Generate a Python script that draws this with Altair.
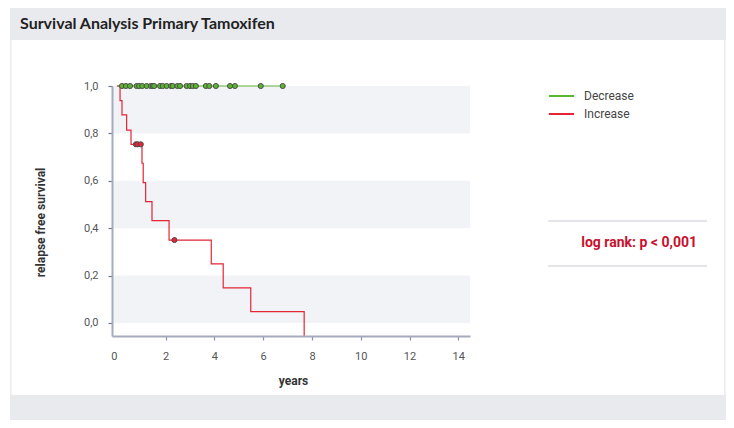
import altair as alt
import pandas as pd

# ---------------- data ----------------
groups = ["Decrease", "Increase"]
colors = ["#5cb531", "#e42535"]

# Decrease: no events, all censored at S = 1.0
dec_line_t = [0.0, 6.80]
dec_line_s = [1.0, 1.0]
dec_cens_t = [0.21, 0.37, 0.54, 0.81, 0.91, 1.04, 1.22, 1.39, 1.47, 1.53,
              1.77, 1.88, 2.04, 2.22, 2.29, 2.48, 2.59, 2.86, 3.00, 3.11,
              3.24, 3.65, 3.79, 4.06, 4.64, 4.84, 5.90, 6.80]

# Increase: Kaplan-Meier steps
inc_step_t = [0.0, 0.13, 0.21, 0.40, 0.58, 1.03, 1.08, 1.18, 1.44, 2.14,
              3.87, 4.36, 5.49, 7.68]
inc_step_s = [1.0, 0.938, 0.878, 0.814, 0.754, 0.674, 0.592, 0.512, 0.432,
              0.350, 0.249, 0.148, 0.048, 0.0]
inc_cens_t = [0.78, 0.85, 0.98, 2.36]
inc_cens_s = [0.754, 0.754, 0.754, 0.350]

x_ticks = [0, 2, 4, 6, 8, 10, 12, 14]
y_ticks = [0.0, 0.2, 0.4, 0.6, 0.8, 1.0]
band_lo = [0.8, 0.4, 0.0]
band_hi = [1.0, 0.6, 0.2]

title_text = "Survival Analysis Primary Tamoxifen"
x_title = "years"
y_title = "relapse free survival"
stat_text = "log rank: p < 0,001"

# ---------------- tables ----------------
lines = pd.DataFrame(
    [{"group": "Decrease", "t": t, "s": s, "i": i} for i, (t, s) in enumerate(zip(dec_line_t, dec_line_s))]
    + [{"group": "Increase", "t": t, "s": s, "i": i} for i, (t, s) in enumerate(zip(inc_step_t, inc_step_s))]
)
cens = pd.DataFrame(
    [{"group": "Decrease", "t": t, "s": 1.0} for t in dec_cens_t]
    + [{"group": "Increase", "t": t, "s": s} for t, s in zip(inc_cens_t, inc_cens_s)]
)
last_drop = pd.DataFrame([{"t": inc_step_t[-1], "s": inc_step_s[-1]}])
bands_df = pd.DataFrame({"lo": band_lo, "hi": band_hi})

W, H = 358, 250
xscale = alt.Scale(domain=[-0.2, 14.48], nice=False, zero=False)
yscale = alt.Scale(domain=[-0.055, 1.0], nice=False, zero=False)
cscale = alt.Scale(domain=groups, range=colors)

FONT = "Roboto"
GREY = "#e9eaee"
blank = alt.Data(values=[{}])

xaxis = alt.Axis(values=x_ticks, format="d", grid=False, title=x_title, zindex=1,
                 domainColor="#a5aabd", domainWidth=2, tickColor="#8a90a8",
                 tickOpacity={"condition": {"test": "datum.value === 0", "value": 0}, "value": 1},
                 labelAlign={"condition": {"test": "datum.value === 0", "value": "right"}, "value": "center"},
                 tickSize=4, tickWidth=1.2, labelFont=FONT, labelFontSize=11,
                 labelColor="#555555", labelPadding=10, titleFont=FONT,
                 titleFontSize=12, titleFontWeight="bold", titleColor="#333333",
                 titleX=181, titleY=48, titleBaseline="alphabetic")
yaxis = alt.Axis(values=y_ticks, grid=False, title=y_title, zindex=1,
                 labelExpr="replace(format(datum.value, '.1f'), '.', ',')",
                 domainColor="#a5aabd", domainWidth=2, tickColor="#70758f",
                 tickSize=4, tickWidth=1.2, labelFont=FONT, labelFontSize=11,
                 labelColor="#555555", labelPadding=10, titleFont=FONT,
                 titleFontSize=12, titleFontWeight="bold", titleColor="#333333",
                 titleAngle=270, titleX=-68, titleY=136, titleAlign="center",
                 titleBaseline="alphabetic")

# ---------------- card decoration ----------------
header = alt.Chart(blank).mark_rect(color=GREY).encode(
    x=alt.value(-102), x2=alt.value(614), y=alt.value(-78), y2=alt.value(-46))
footer = alt.Chart(blank).mark_rect(color=GREY).encode(
    x=alt.value(-102), x2=alt.value(614), y=alt.value(309), y2=alt.value(334))
lborder = alt.Chart(blank).mark_rect(color="#ececf0").encode(
    x=alt.value(-102), x2=alt.value(-100.5), y=alt.value(-46), y2=alt.value(309))
rborder = alt.Chart(blank).mark_rect(color="#ececf0").encode(
    x=alt.value(612), x2=alt.value(613.5), y=alt.value(-46), y2=alt.value(309))
title = alt.Chart(blank).mark_text(
    text=title_text, font="Lato", fontSize=16, fontWeight="bold",
    align="left", baseline="alphabetic", color="#222222").encode(
    x=alt.value(-92), y=alt.value(-57))

# ---------------- plot ----------------
bands = alt.Chart(bands_df).mark_rect(color="#f2f3f7").encode(
    x=alt.value(0), x2=alt.value(W),
    y=alt.Y("lo:Q", scale=yscale, axis=yaxis), y2="hi:Q")

curve = alt.Chart(lines).mark_line(interpolate="step-after", strokeWidth=1.2).encode(
    x=alt.X("t:Q", scale=xscale, axis=xaxis),
    y=alt.Y("s:Q", scale=yscale, axis=yaxis),
    color=alt.Color("group:N", scale=cscale, legend=alt.Legend(
        orient="none", legendX=439.5, legendY=0, title=None,
        symbolType="M-1.4,0H1.4", symbolSize=324, symbolStrokeWidth=2,
        labelFont=FONT, labelFontSize=12, labelColor="#444444",
        labelOffset=12.5, rowPadding=2, padding=0)),
    order="i:Q")

drop = alt.Chart(last_drop).mark_rule(color=colors[1], strokeWidth=1.2).encode(
    x=alt.X("t:Q", scale=xscale, axis=xaxis),
    y=alt.Y("s:Q", scale=yscale, axis=yaxis), y2=alt.value(H))

marks = alt.Chart(cens).mark_point(shape="circle", filled=True, size=26,
                                   stroke="#4d4d4d", strokeWidth=1, opacity=1).encode(
    x=alt.X("t:Q", scale=xscale, axis=xaxis),
    y=alt.Y("s:Q", scale=yscale, axis=yaxis),
    fill=alt.Fill("group:N", scale=alt.Scale(domain=groups, range=colors), legend=None))

rule1 = alt.Chart(blank).mark_rule(color="#c9cbd6", strokeWidth=1).encode(
    x=alt.value(436), x2=alt.value(595), y=alt.value(135))
rule2 = alt.Chart(blank).mark_rule(color="#c9cbd6", strokeWidth=1).encode(
    x=alt.value(436), x2=alt.value(595), y=alt.value(180))
stat = alt.Chart(blank).mark_text(
    text=stat_text, font=FONT, fontSize=14, fontWeight="bold",
    align="right", baseline="alphabetic", color="#c8102e").encode(
    x=alt.value(585), y=alt.value(161))

chart = alt.layer(
    header, footer, lborder, rborder, title,
    bands, curve, drop, marks, rule1, rule2, stat
).properties(
    width=W, height=H,
    autosize=alt.AutoSizeParams(type="none"),
    padding={"left": 104, "top": 78, "right": 256, "bottom": 84},
    background="white",
).configure_view(stroke=None)

chart.save("out.html", embed_options={"renderer": "svg", "actions": False})
